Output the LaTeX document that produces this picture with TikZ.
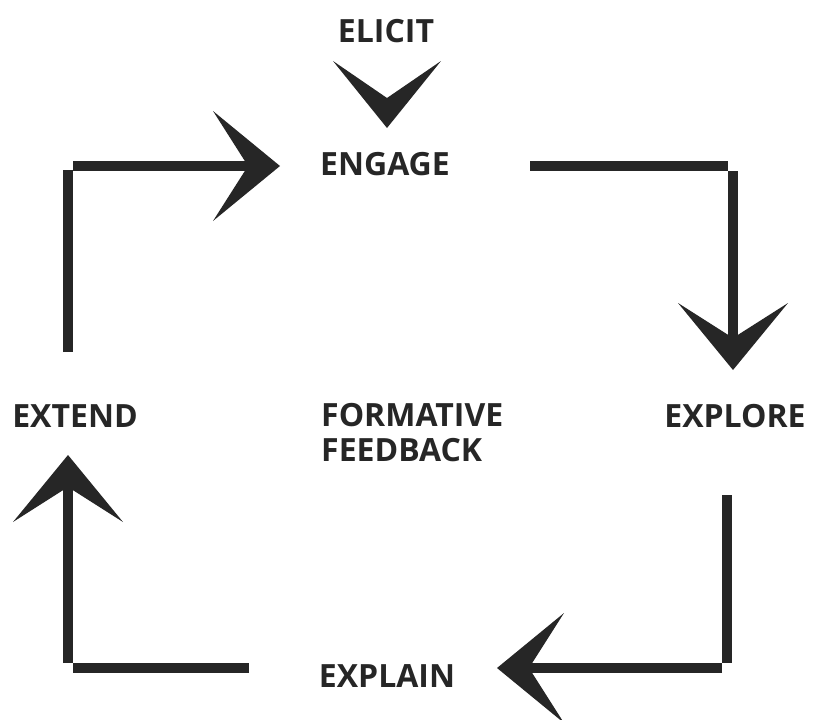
\documentclass[tikz,border=0pt]{standalone}
\usepackage{fontspec}
\setmainfont{Open Sans}
\usepackage{xcolor}
\usetikzlibrary{arrows.meta, positioning}

\definecolor{ink}{HTML}{262626}

\begin{document}
\begin{tikzpicture}[
    x=1pt, y=-1pt,
    every node/.style={inner sep=0pt, text=ink, font=\bfseries\fontsize{32}{35}\selectfont, align=center},
    bar/.style={draw=ink, line width=10pt, line cap=butt},
    flow/.style={bar, -{Stealth[length=67pt, width=110pt, inset=35pt, line width=0pt]}},
]
    \useasboundingbox (0,0) rectangle (814,720);

    % --- STAGES ---
    \node (elicit)   at (386,31)  {ELICIT};
    \node (engage)   at (385,164) {ENGAGE};
    \node (explore)  at (735,416) {EXPLORE};
    \node (explain)  at (387,676) {EXPLAIN};
    \node (extend)   at (75,416)  {EXTEND};
    \node[anchor=west, align=left] (feedback) at (321,433) {FORMATIVE\\FEEDBACK};

    % --- ELICIT -> ENGAGE (chevron) ---
    \fill[ink] (333,61) -- (387,128) -- (441,61) -- (387,98) -- cycle;

    % --- CYCLE ---
    % Extend -> Engage
    \draw[bar] (68,352) -- (68,170);
    \draw[flow] (73,166) -- (280,166);

    % Engage -> Explore
    \draw[bar] (530,166) -- (728,166);
    \draw[flow] (733,171) -- (733,370);

    % Explore -> Explain
    \draw[bar] (727,495) -- (727,663);
    \draw[flow] (722,668) -- (497,668);

    % Explain -> Extend
    \draw[bar] (249,668) -- (73,668);
    \draw[flow] (68,663) -- (68,455);

\end{tikzpicture}
\end{document}
